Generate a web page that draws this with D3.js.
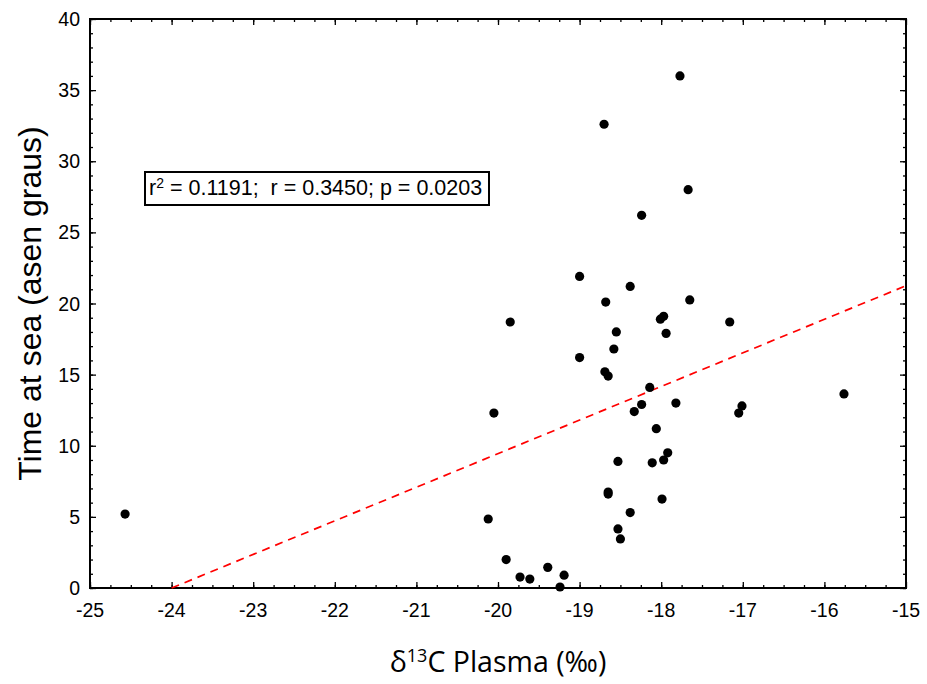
<!DOCTYPE html>
<html>
<head>
<meta charset="utf-8">
<script src="https://cdn.jsdelivr.net/npm/d3@7"></script>
<style>
  body { margin: 0; background: #fff; }
  svg { display: block; }
  text { white-space: pre; }
</style>
</head>
<body>
<div id="chart"></div>
<script>
// d13C plasma (x) vs time at sea (y)
const d13C = [-24.57, -20.12, -20.05, -19.85, -19.90, -19.73, -19.61, -19.39, -19.24, -19.19,
  -19.0, -19.0, -18.70, -18.68, -18.69, -18.65, -18.65, -18.65, -18.55, -18.58,
  -18.53, -18.53, -18.50, -18.38, -18.38, -18.33, -18.24, -18.24, -18.14, -18.11,
  -18.06, -18.01, -17.97, -17.94, -17.97, -17.92, -17.99, -17.82, -17.77, -17.67,
  -17.65, -17.16, -17.05, -17.01, -15.76];
const timeAtSea = [5.2, 4.85, 12.3, 18.7, 2.0, 0.77, 0.63, 1.45, 0.07, 0.9,
  21.9, 16.2, 32.6, 20.1, 15.2, 14.9, 6.75, 6.6, 18.0, 16.8,
  8.9, 4.15, 3.45, 5.3, 21.2, 12.4, 26.2, 12.9, 14.1, 8.8,
  11.2, 18.9, 19.1, 17.9, 9.0, 9.5, 6.25, 13.0, 36.0, 28.0,
  20.25, 18.7, 12.3, 12.8, 13.64];
// fitted line end points (x, y)
const fitX = [-24.0, -15];
const fitY = [0, 21.25];
const xTicks = [-25, -24, -23, -22, -21, -20, -19, -18, -17, -16, -15];
const yTicks = [0, 5, 10, 15, 20, 25, 30, 35, 40];

const width = 927, height = 684;
const margin = {top: 19, right: 21, bottom: 96, left: 90};

const svg = d3.select("#chart").append("svg")
  .attr("width", width).attr("height", height);

const x = d3.scaleLinear().domain([-25, -15]).range([margin.left, width - margin.right]);
const y = d3.scaleLinear().domain([0, 40]).range([height - margin.bottom, margin.top]);

const tickFont = "Liberation Sans, Arial, sans-serif";

// minor ticks first, then major ones (all pointing inward)
const xMinor = d3.range(-25, -15.001, 0.25);
const yMinor = d3.range(0, 40.001, 1);

const addAxis = (axis, tx, ty) => svg.append("g")
  .attr("transform", `translate(${tx},${ty})`)
  .call(axis)
  .call(g => g.select(".domain").remove())
  .call(g => g.selectAll("line").attr("stroke", "#000").attr("stroke-width", 1.3));

// bottom
addAxis(d3.axisTop(x).tickValues(xMinor).tickSize(3).tickFormat(""), 0, y(0));
addAxis(d3.axisTop(x).tickValues(xTicks).tickSize(6).tickFormat(""), 0, y(0));
// top
addAxis(d3.axisBottom(x).tickValues(xMinor).tickSize(3).tickFormat(""), 0, y(40));
addAxis(d3.axisBottom(x).tickValues(xTicks).tickSize(6).tickFormat(""), 0, y(40));
// left
addAxis(d3.axisRight(y).tickValues(yMinor).tickSize(3).tickFormat(""), x(-25), 0);
addAxis(d3.axisRight(y).tickValues(yTicks).tickSize(6).tickFormat(""), x(-25), 0);
// right
addAxis(d3.axisLeft(y).tickValues(yMinor).tickSize(3).tickFormat(""), x(-15), 0);
addAxis(d3.axisLeft(y).tickValues(yTicks).tickSize(6).tickFormat(""), x(-15), 0);

// tick labels
svg.append("g").selectAll("text")
  .data(xTicks)
  .join("text")
    .attr("x", d => x(d))
    .attr("y", y(0) + 29)
    .attr("text-anchor", "middle")
    .attr("font-family", tickFont)
    .attr("font-size", 19.5)
    .text(d => d);

svg.append("g").selectAll("text")
  .data(yTicks)
  .join("text")
    .attr("x", x(-25) - 10)
    .attr("y", d => y(d) + 7)
    .attr("text-anchor", "end")
    .attr("font-family", tickFont)
    .attr("font-size", 19.5)
    .text(d => d);

// plot frame
svg.append("rect")
  .attr("x", x(-25)).attr("y", y(40))
  .attr("width", x(-15) - x(-25)).attr("height", y(0) - y(40))
  .attr("fill", "none").attr("stroke", "#000").attr("stroke-width", 2);

// regression line
svg.append("line")
  .attr("x1", x(fitX[0])).attr("y1", y(fitY[0]))
  .attr("x2", x(fitX[1])).attr("y2", y(fitY[1]))
  .attr("stroke", "#ff0000").attr("stroke-width", 1.7)
  .attr("stroke-dasharray", "8,6");

// points
svg.append("g").selectAll("circle")
  .data(d13C.map((v, i) => ({x: v, y: timeAtSea[i]})))
  .join("circle")
    .attr("cx", d => x(d.x))
    .attr("cy", d => y(d.y))
    .attr("r", 4.6)
    .attr("fill", "#000");

// stats box
const box = svg.append("g").attr("transform", "translate(145,172)");
box.append("rect")
  .attr("width", 344).attr("height", 33)
  .attr("fill", "#fff").attr("stroke", "#000").attr("stroke-width", 2);
const st = box.append("text")
  .attr("x", 4).attr("y", 23)
  .attr("font-family", tickFont)
  .attr("font-size", 21.5);
st.append("tspan").text("r");
st.append("tspan").attr("dy", -7).attr("font-size", 14).text("2");
st.append("tspan").attr("dy", 7).text(" = 0.1191;  r = 0.3450; p = 0.0203");

// axis titles
const xt = svg.append("text")
  .attr("x", 498).attr("y", 672)
  .attr("text-anchor", "middle")
  .attr("font-family", "Open Sans, sans-serif")
  .attr("font-size", 28.5);
xt.append("tspan").text("δ");
xt.append("tspan").attr("dy", -10).attr("font-size", 18).text("13");
xt.append("tspan").attr("dy", 10).text("C Plasma (‰)");

svg.append("text")
  .attr("transform", `translate(41,${(y(0) + y(40)) / 2}) rotate(-90)`)
  .attr("text-anchor", "middle")
  .attr("font-family", tickFont)
  .attr("font-size", 32)
  .text("Time at sea (asen graus)");
</script>
</body>
</html>
